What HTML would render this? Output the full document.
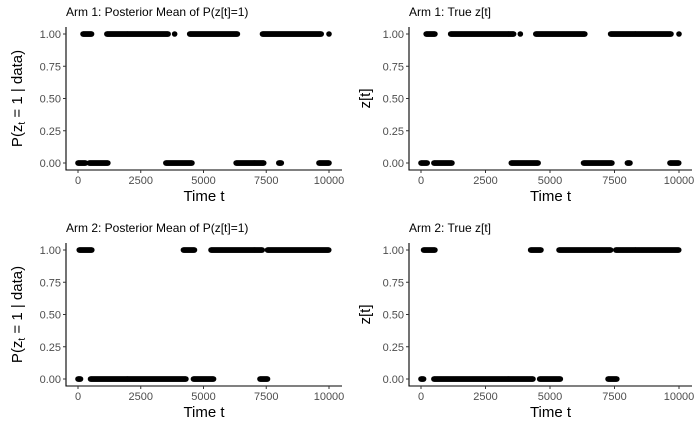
<!DOCTYPE html>
<html><head><meta charset="utf-8"><style>
body{margin:0;background:#fff;}
svg{display:block;font-family:"Liberation Sans",Arial,sans-serif;}
</style></head><body>
<svg id="c" width="700" height="432" xmlns="http://www.w3.org/2000/svg"></svg>
<script>
const xTicks=[0,2500,5000,7500,10000];
const yTicks=[0,0.25,0.5,0.75,1];
const yTickLabels=["0.00","0.25","0.50","0.75","1.00"];
// segments: [start, end, value]
const arm1Post=[[0,300,0],[200,550,1],[450,1200,0],[1150,3600,1],[3500,4550,0],[3850,3850,1],[4450,6350,1],[6300,7400,0],[7350,9700,1],[8000,8100,0],[9600,10000,0],[10000,10000,1]];
const arm1True=[[0,250,0],[200,550,1],[500,1200,0],[1150,3600,1],[3500,4550,0],[3850,3850,1],[4450,6350,1],[6300,7400,0],[7350,9700,1],[8000,8100,0],[9650,10000,0],[10000,10000,1]];
const arm2Post=[[0,100,0],[50,550,1],[500,4300,0],[4200,4650,1],[4600,5400,0],[5300,7350,1],[7250,7550,0],[7550,10000,1]];
const arm2True=[[0,100,0],[100,550,1],[500,4350,0],[4250,4650,1],[4600,5400,0],[5350,7350,1],[7250,7600,0],[7550,10000,1]];

const NS="http://www.w3.org/2000/svg";
const svg=document.getElementById('c');
function el(tag,attrs,parent){const e=document.createElementNS(NS,tag);for(const k in attrs)e.setAttribute(k,attrs[k]);(parent||svg).appendChild(e);return e;}

const panels=[
 {title:"Arm 1: Posterior Mean of P(z[t]=1)",data:arm1Post,axL:66,x0:78,x1:329,axR:342,yTop:34,yBot:163,axB:170,post:true,name:"arm1-posterior"},
 {title:"Arm 1: True z[t]",data:arm1True,axL:409,x0:421,x1:679,axR:692,yTop:34,yBot:163,axB:170,post:false,name:"arm1-true"},
 {title:"Arm 2: Posterior Mean of P(z[t]=1)",data:arm2Post,axL:66,x0:78,x1:329,axR:342,yTop:250,yBot:379,axB:386,post:true,name:"arm2-posterior"},
 {title:"Arm 2: True z[t]",data:arm2True,axL:409,x0:421,x1:679,axR:692,yTop:250,yBot:379,axB:386,post:false,name:"arm2-true"}
];
panels.forEach(p=>{
 const g=el('g',{});
 
 
 const xs=v=>p.x0+(v/10000)*(p.x1-p.x0);
 const ys=v=>p.yBot-v*(p.yBot-p.yTop);
 const t=el('text',{x:p.axL,y:p.yTop-18,'font-size':12,fill:'#000'},g);t.textContent=p.title;
 
 
 const ax=el('path',{d:`M${p.axL} ${p.yTop-7}V${p.axB}H${p.axR}`,stroke:'#000','stroke-width':1.1,fill:'none'},g);
 
 
 yTicks.forEach((v,i)=>{
  el('line',{x1:p.axL-3,x2:p.axL,y1:ys(v),y2:ys(v),stroke:'#333'},g);
  const tl=el('text',{x:p.axL-5,y:ys(v)+4,'font-size':11,fill:'#4d4d4d','text-anchor':'end'},g);tl.textContent=yTickLabels[i];
  
  
 });
 xTicks.forEach(v=>{
  el('line',{x1:xs(v),x2:xs(v),y1:p.axB,y2:p.axB+3,stroke:'#333'},g);
  const tl=el('text',{x:xs(v),y:p.axB+14,'font-size':11,fill:'#4d4d4d','text-anchor':'middle'},g);tl.textContent=v;
  
  
 });
 const xt=el('text',{x:(p.axL+p.axR)/2,y:p.axB+31,'font-size':15,fill:'#000','text-anchor':'middle'},g);xt.textContent='Time t';
 
 
 const cy=(p.yTop+p.yBot)/2;
 const yt=el('text',{x:0,y:0,'font-size':15,fill:'#000','text-anchor':'middle',transform:`translate(${p.axL-44},${cy}) rotate(-90)`},g);
 if(p.post){yt.innerHTML='P(z<tspan font-size="10" dy="3">t</tspan><tspan dy="-3"> = 1 | data)</tspan>';}
 else{yt.textContent='z[t]';yt.setAttribute('transform',`translate(${p.axL-39},${cy}) rotate(-90)`);}
 
 
 p.data.forEach(s=>{
  for(let tt=s[0];tt<=s[1];tt+=20){
   const c=el('circle',{cx:xs(tt),cy:ys(s[2]),r:2.8,fill:'#000'},g);
   
   
  }
 });
});
</script>
</body></html>
